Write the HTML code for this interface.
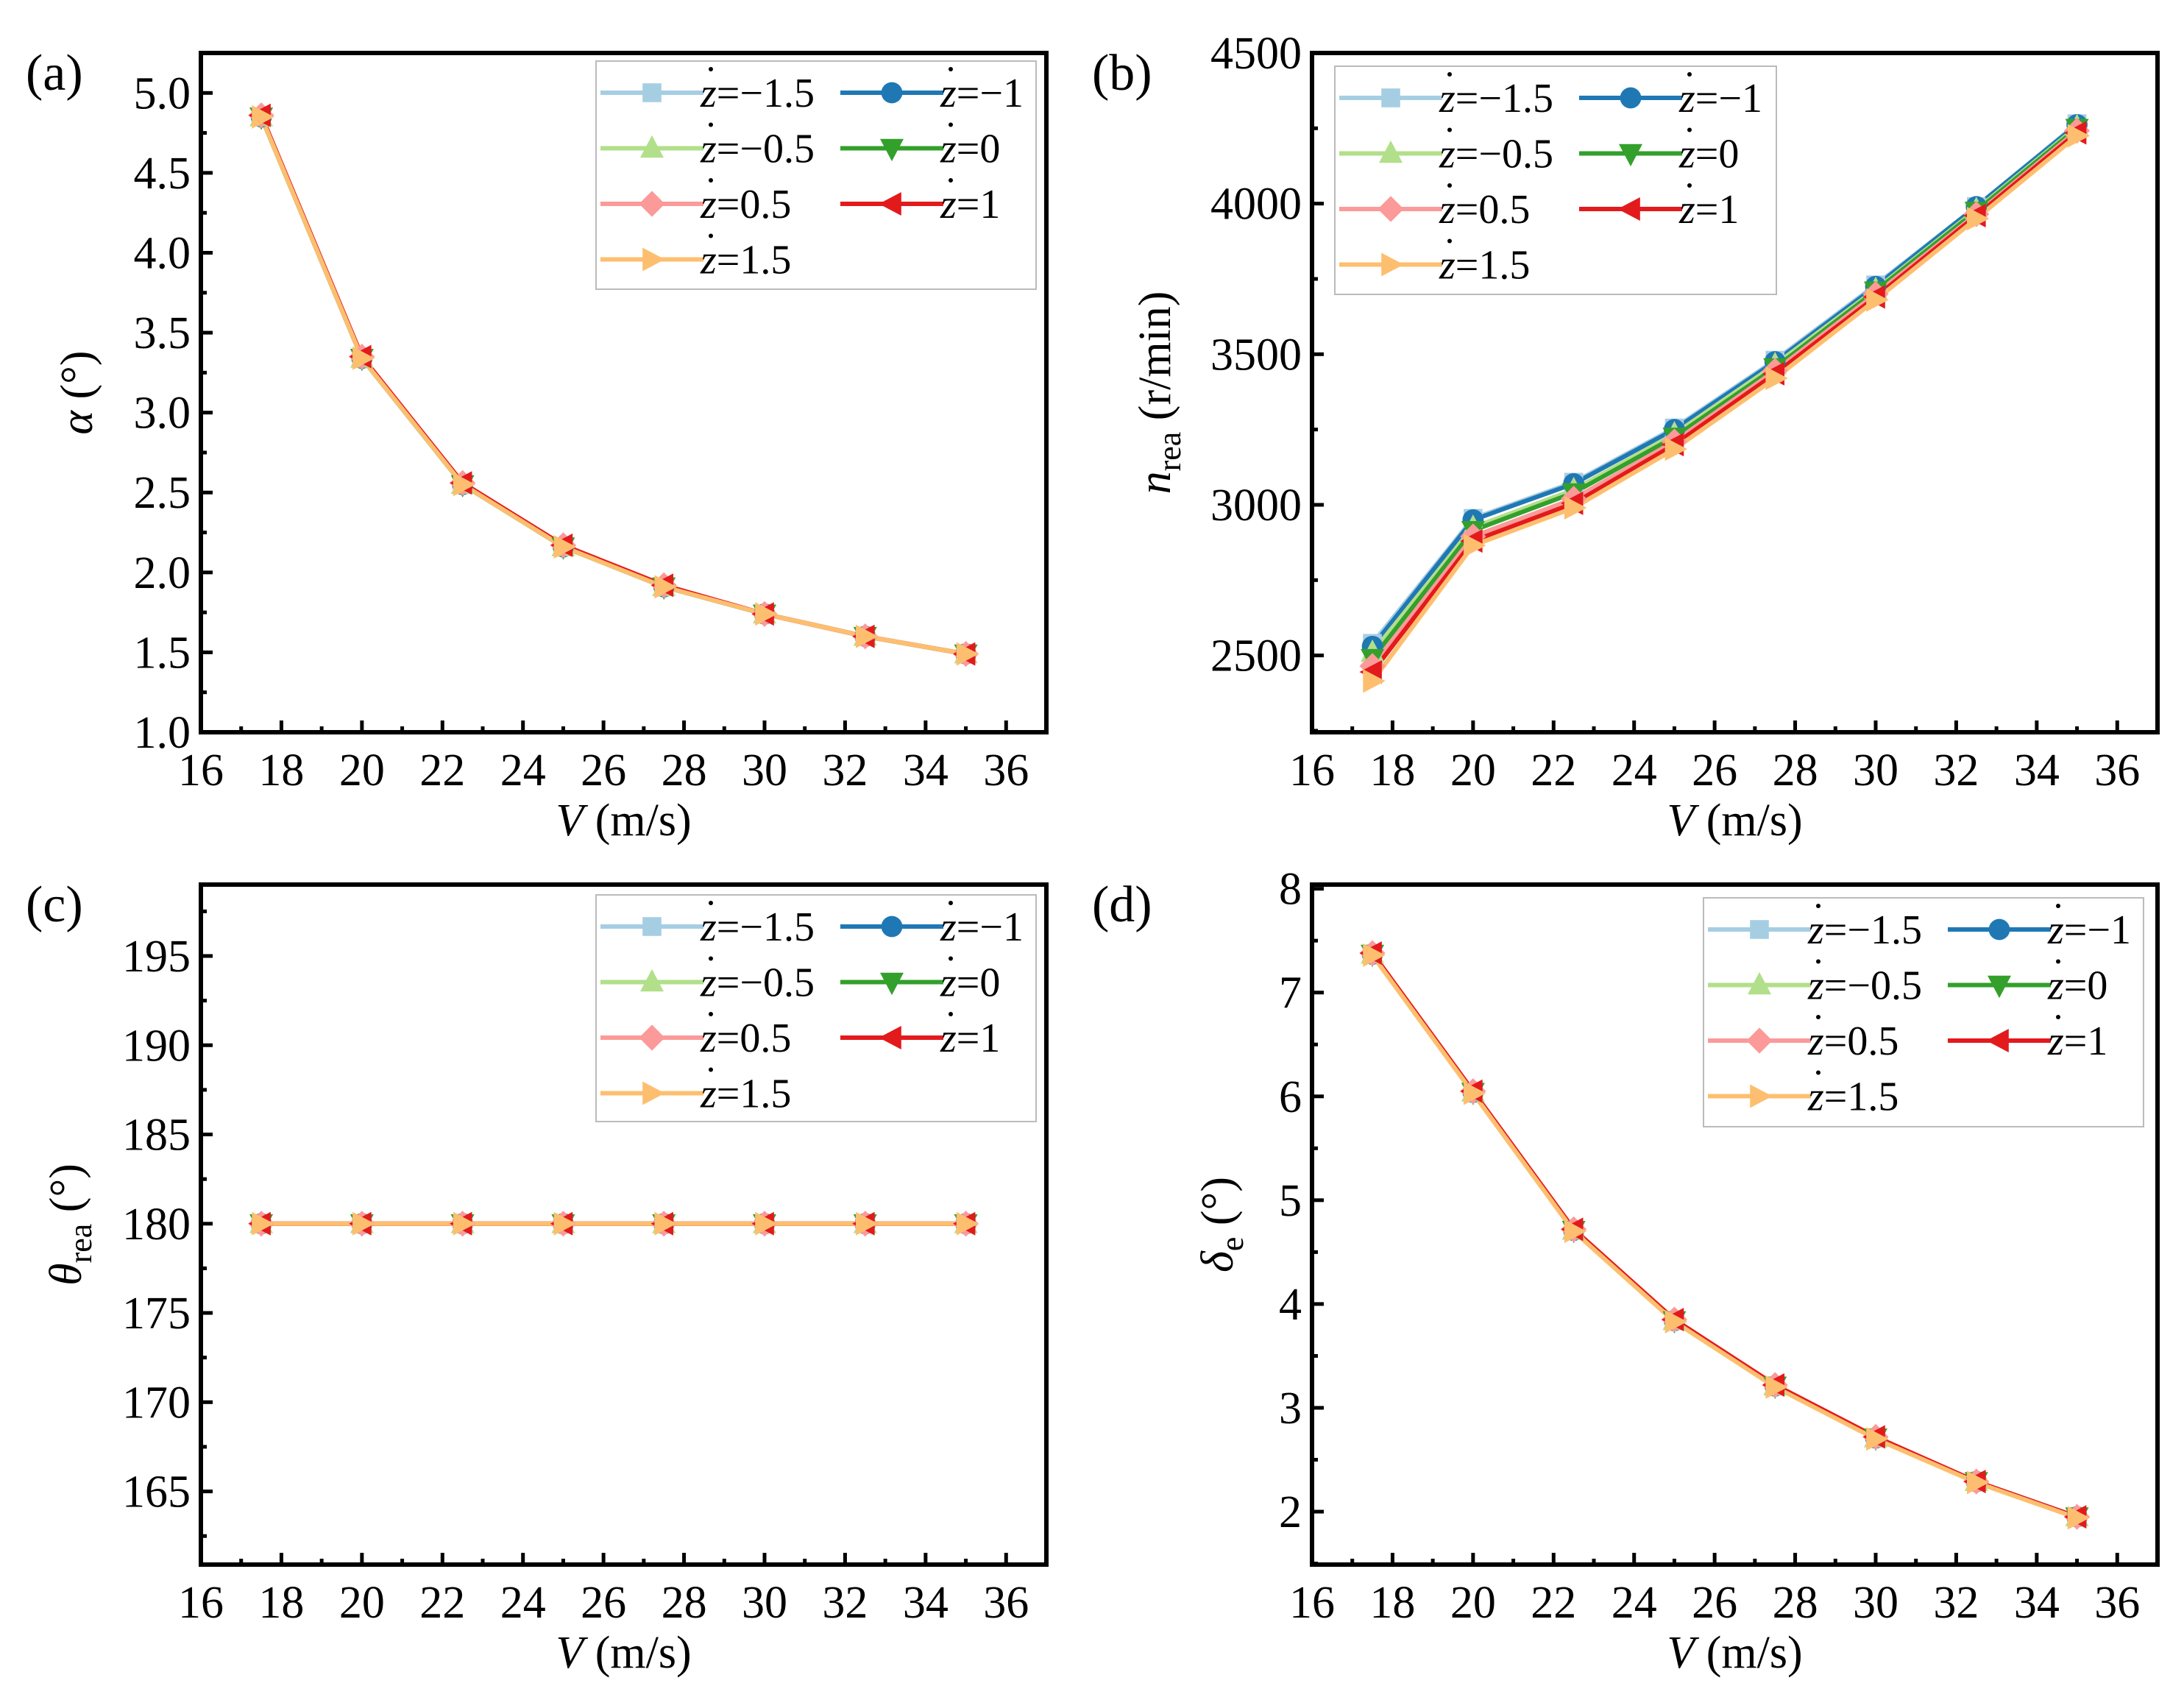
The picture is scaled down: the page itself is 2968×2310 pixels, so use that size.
<!DOCTYPE html>
<html><head><meta charset="utf-8"><style>
html,body{margin:0;padding:0;background:#fff}
svg{display:block;font-family:"Liberation Serif",serif}
</style></head><body>
<svg id="fig" xmlns="http://www.w3.org/2000/svg" width="2968" height="2310" viewBox="0 0 2968 2310"></svg>
<script>
const xValues=[17.5,20,22.5,25,27.5,30,32.5,35];
const seriesNames=["z=\u22121.5","z=\u22121","z=\u22120.5","z=0","z=0.5","z=1","z=1.5"];
const seriesColors=["#a6cee3","#1f78b4","#b2df8a","#33a02c","#fb9a99","#e31a1c","#fdbf6f"];
const seriesMarkers=["square","circle","up","down","diamond","left","right"];
const alphaA=[[4.85,3.34,2.55,2.16,1.91,1.74,1.60,1.49],[4.85,3.34,2.55,2.16,1.91,1.74,1.60,1.49],[4.85,3.34,2.55,2.16,1.91,1.74,1.60,1.49],[4.85,3.34,2.55,2.16,1.91,1.74,1.60,1.49],[4.86,3.35,2.56,2.17,1.92,1.74,1.60,1.49],[4.86,3.35,2.56,2.17,1.92,1.74,1.60,1.49],[4.85,3.34,2.55,2.16,1.91,1.74,1.60,1.49]];
const nReaB=[[2540,2955,3075,3255,3480,3730,3990,4265],[2530,2950,3070,3250,3475,3725,3990,4262],[2510,2925,3050,3235,3465,3715,3980,4255],[2490,2915,3040,3225,3455,3710,3975,4250],[2465,2895,3020,3210,3445,3700,3965,4242],[2445,2880,3005,3200,3435,3690,3960,4235],[2415,2865,2990,3185,3420,3680,3950,4225]];
const thetaC=[[180,180,180,180,180,180,180,180],[180,180,180,180,180,180,180,180],[180,180,180,180,180,180,180,180],[180,180,180,180,180,180,180,180],[180,180,180,180,180,180,180,180],[180,180,180,180,180,180,180,180],[180,180,180,180,180,180,180,180]];
const deltaD=[[7.37,6.04,4.71,3.84,3.21,2.71,2.29,1.95],[7.37,6.04,4.71,3.84,3.21,2.71,2.29,1.95],[7.37,6.04,4.71,3.84,3.21,2.71,2.29,1.95],[7.37,6.04,4.71,3.84,3.21,2.71,2.29,1.95],[7.38,6.05,4.72,3.85,3.22,2.72,2.29,1.95],[7.38,6.05,4.72,3.85,3.22,2.72,2.29,1.95],[7.36,6.03,4.70,3.83,3.20,2.70,2.28,1.94]];
const xTicks=[16,18,20,22,24,26,28,30,32,34,36];
const yTicksA=["1.0","1.5","2.0","2.5","3.0","3.5","4.0","4.5","5.0"];
const yTicksB=["2500","3000","3500","4000","4500"];
const yTicksC=["165","170","175","180","185","190","195"];
const yTicksD=["2","3","4","5","6","7","8"];

const NS="http://www.w3.org/2000/svg";
const svg=document.getElementById('fig');
function mk(tag,attrs,parent,name){const e=document.createElementNS(NS,tag);for(const k in attrs)e.setAttribute(k,attrs[k]);(parent||svg).appendChild(e);


return e;}
function marker(g,type,cx,cy,s,color){
 let e;
 if(type==="square")e=mk('rect',{x:cx-s*0.8,y:cy-s*0.8,width:s*1.6,height:s*1.6,fill:color},g,'marker-square');
 else if(type==="circle")e=mk('circle',{cx:cx,cy:cy,r:s*0.9,fill:color},g,'marker-circle');
 else{let p;
  if(type==="up")p=[[0,-1.1],[1,0.8],[-1,0.8]];
  else if(type==="down")p=[[0,1.1],[1,-0.8],[-1,-0.8]];
  else if(type==="left")p=[[-1.1,0],[0.8,-1],[0.8,1]];
  else if(type==="right")p=[[1.1,0],[-0.8,-1],[-0.8,1]];
  else p=[[0,-1.1],[1.1,0],[0,1.1],[-1.1,0]];
  e=mk('polygon',{points:p.map(q=>(cx+q[0]*s)+','+(cy+q[1]*s)).join(' '),fill:color},g,'marker-'+type);}
 return e;}
function panel(cfg){
 const g=mk('g',{},svg,'panel-'+cfg.id);
 const {L,R,T,B,xmin,xmax,ymin,ymax}=cfg;
 const sx=v=>L+(v-xmin)/(xmax-xmin)*(R-L);
 const sy=v=>B-(v-ymin)/(ymax-ymin)*(B-T);
 const sg=mk('g',{},g,'series-group');
 cfg.data.forEach((arr,i)=>{
  const pts=xValues.map((x,j)=>sx(x)+','+sy(arr[j])).join(' ');
  mk('polyline',{points:pts,fill:'none',stroke:seriesColors[i],'stroke-width':6,'stroke-linejoin':'round'},sg,'series-line-'+i);
 });
 cfg.data.forEach((arr,i)=>{
  xValues.forEach((x,j)=>marker(sg,seriesMarkers[i],sx(x),sy(arr[j]),16,seriesColors[i]));
 });
 const ax=mk('g',{stroke:'#000','stroke-width':5},g,'axis-ticks');
 xTicks.forEach(t=>{
  mk('line',{x1:sx(t),x2:sx(t),y1:B,y2:B-16},ax,'x-major-tick');
  if(sx(t+1)<R)mk('line',{x1:sx(t+1),x2:sx(t+1),y1:B,y2:B-8},ax,'x-minor-tick');
  const tx=mk('text',{x:sx(t),y:B+72,'text-anchor':'middle','font-size':62,stroke:'none',fill:'#000'},g,'x-tick-label');tx.textContent=t;
 });
 const step=cfg.ystep;
 cfg.yticks.forEach(lbl=>{
  const v=parseFloat(lbl);
  mk('line',{x1:L,x2:L+16,y1:sy(v),y2:sy(v)},ax,'y-major-tick');
  if(sy(v+step/2)>T)mk('line',{x1:L,x2:L+8,y1:sy(v+step/2),y2:sy(v+step/2)},ax,'y-minor-tick');
  if(sy(v-step/2)<B && lbl===cfg.yticks[0])mk('line',{x1:L,x2:L+8,y1:sy(v-step/2),y2:sy(v-step/2)},ax,'y-minor-tick');
  const ty=mk('text',{x:L-14,y:sy(v)+21,'text-anchor':'end','font-size':62,fill:'#000'},g,'y-tick-label');ty.textContent=lbl;
 });
 mk('rect',{x:L,y:T,width:R-L,height:B-T,fill:'none',stroke:'#000','stroke-width':6},g,'plot-frame');
 const xt=mk('text',{x:(L+R)/2,y:B+140,'text-anchor':'middle','font-size':62,fill:'#000'},g,'x-axis-title');
 xt.innerHTML='<tspan font-style="italic">V</tspan> (m/s)';
 const yt=mk('text',{x:0,y:0,'text-anchor':'middle','font-size':62,fill:'#000',transform:`translate(${cfg.ytx},${(T+B)/2}) rotate(-90)`},g,'y-axis-title');
 yt.innerHTML=cfg.ytitle;
 const pl=mk('text',{x:cfg.plx,y:T+50,'font-size':70,fill:'#000'},g,'panel-label');pl.textContent='('+cfg.id+')';
 const lg=mk('g',{},g,'legend');
 const {lx,ly,lw,lh}=cfg.leg;
 mk('rect',{x:lx,y:ly,width:lw,height:lh,fill:'#fff',stroke:'#bbb','stroke-width':2},lg,'legend-box');
 const rowH=75.5;
 seriesNames.forEach((n,i)=>{
  const col=i%2,row=Math.floor(i/2);
  const x0=lx+6+col*326,y0=ly+43+row*rowH;
  mk('line',{x1:x0,x2:x0+140,y1:y0,y2:y0,stroke:seriesColors[i],'stroke-width':6},lg,'legend-line');
  marker(lg,seriesMarkers[i],x0+70,y0,16,seriesColors[i]);
  const t=mk('text',{x:x0+136,y:y0+19,'font-size':56,fill:'#000'},lg,'legend-entry');
  t.innerHTML='<tspan font-style="italic">z</tspan>'+n.slice(1);
  mk('circle',{cx:x0+150,cy:y0-32,r:3,fill:'#000'},lg,'legend-dot');
 });
}
panel({id:'a',L:273,R:1422,T:72,B:995,xmin:16,xmax:37,ymin:1.0,ymax:5.25,ystep:0.5,yticks:yTicksA,data:alphaA,
 ytitle:'<tspan font-style="italic">α</tspan> (°)',ytx:125,plx:35,leg:{lx:810,ly:83,lw:598,lh:310}});
panel({id:'b',L:1783,R:2932,T:72,B:995,xmin:16,xmax:37,ymin:2245,ymax:4500,ystep:500,yticks:yTicksB,data:nReaB,
 ytitle:'<tspan font-style="italic">n</tspan><tspan font-size="44" dy="14">rea</tspan><tspan dy="-14"> (r/min)</tspan>',ytx:1590,plx:1484,leg:{lx:1814,ly:90,lw:600,lh:310}});
panel({id:'c',L:273,R:1422,T:1202,B:2126,xmin:16,xmax:37,ymin:160.9,ymax:199,ystep:5,yticks:yTicksC,data:thetaC,
 ytitle:'<tspan font-style="italic">θ</tspan><tspan font-size="44" dy="14">rea</tspan><tspan dy="-14"> (°)</tspan>',ytx:110,plx:35,leg:{lx:810,ly:1216,lw:598,lh:308}});
panel({id:'d',L:1783,R:2932,T:1202,B:2126,xmin:16,xmax:37,ymin:1.49,ymax:8.04,ystep:1,yticks:yTicksD,data:deltaD,
 ytitle:'<tspan font-style="italic">δ</tspan><tspan font-size="44" dy="14">e</tspan><tspan dy="-14"> (°)</tspan>',ytx:1675,plx:1484,leg:{lx:2315,ly:1220,lw:598,lh:311}});
</script>
</body></html>
